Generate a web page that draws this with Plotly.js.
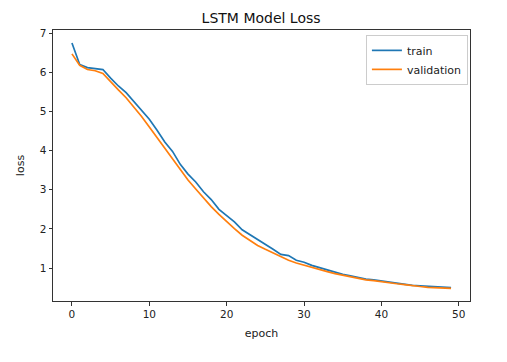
<!DOCTYPE html>
<html>
<head>
<meta charset="utf-8">
<script src="https://cdn.plot.ly/plotly-3.0.1.min.js"></script>
<style>html,body{margin:0;padding:0;background:#fff;}#chart{width:507px;height:362px;}</style>
</head>
<body>
<div id="chart"></div>
<script>
const epochs = Array.from({length: 50}, (_, i) => i);
const trainLoss = [6.75, 6.2, 6.12, 6.1, 6.07, 5.85, 5.65, 5.48, 5.25, 5.02,
  4.8, 4.52, 4.22, 3.98, 3.65, 3.4, 3.2, 2.95, 2.75, 2.5,
  2.35, 2.18, 1.98, 1.86, 1.72, 1.6, 1.48, 1.35, 1.32, 1.2,
  1.15, 1.07, 1.01, 0.95, 0.89, 0.84, 0.8, 0.76, 0.72, 0.7,
  0.67, 0.64, 0.61, 0.59, 0.56, 0.55, 0.54, 0.53, 0.52, 0.5];
const valLoss = [6.47, 6.18, 6.07, 6.04, 5.97, 5.75, 5.55, 5.35, 5.12, 4.87,
  4.6, 4.33, 4.05, 3.77, 3.5, 3.25, 3.02, 2.78, 2.57, 2.37,
  2.18, 2.01, 1.84, 1.7, 1.58, 1.48, 1.38, 1.29, 1.2, 1.13,
  1.07, 1.01, 0.96, 0.91, 0.86, 0.82, 0.78, 0.74, 0.7, 0.68,
  0.65, 0.62, 0.6, 0.58, 0.55, 0.53, 0.51, 0.5, 0.49, 0.48];
const xTicks = [0, 10, 20, 30, 40, 50];
const yTicks = [1, 2, 3, 4, 5, 6, 7];

const tickFont = {family: 'DejaVu Sans, sans-serif', size: 10.5, color: '#222'};
const labelFont = {family: 'DejaVu Sans, sans-serif', size: 11, color: '#222'};
const traces = [
  {x: epochs, y: trainLoss, name: 'train', mode: 'lines', line: {color: '#1f77b4', width: 1.7}},
  {x: epochs, y: valLoss, name: 'validation', mode: 'lines', line: {color: '#ff7f0e', width: 1.7}}
];
const axisCommon = {
  showgrid: false, zeroline: false, showline: true, mirror: true,
  linecolor: '#333', linewidth: 1, ticks: 'outside', ticklen: 3.5, tickwidth: 1,
  tickcolor: '#333', tickfont: tickFont
};
const layout = {
  width: 507, height: 362,
  margin: {l: 53, r: 37, t: 30, b: 61},
  paper_bgcolor: '#fff', plot_bgcolor: '#fff',
  font: labelFont,
  title: {text: 'LSTM Model Loss', font: {family: 'DejaVu Sans, sans-serif', size: 14, color: '#111'}, x: 0.515, xanchor: 'center', y: 0.95, yanchor: 'middle'},
  xaxis: Object.assign({}, axisCommon, {range: [-2.45, 51.45], tickvals: xTicks, ticktext: xTicks.map(String),
    title: {text: 'epoch', font: labelFont, standoff: 10}}),
  yaxis: Object.assign({}, axisCommon, {range: [0.16, 7.08], tickvals: yTicks, ticktext: yTicks.map(String),
    title: {text: 'loss', font: labelFont, standoff: 12}}),
  legend: {x: 0.995, xanchor: 'right', y: 0.982, yanchor: 'top', bgcolor: 'rgba(255,255,255,0.8)',
    bordercolor: '#ccc', borderwidth: 1, font: labelFont, tracegroupgap: 0, itemwidth: 30},
  showlegend: true
};
Plotly.newPlot('chart', traces, layout, {displayModeBar: false, staticPlot: true});
</script>
</body>
</html>
